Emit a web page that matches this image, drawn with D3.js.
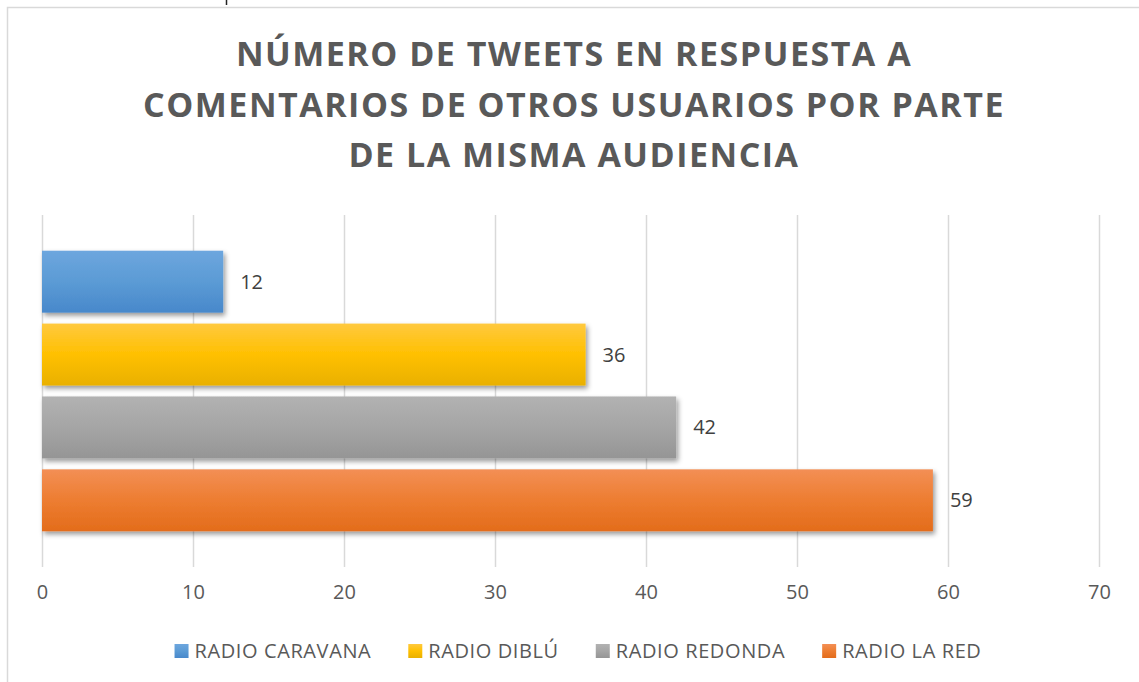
<!DOCTYPE html>
<html>
<head>
<meta charset="utf-8">
<script src="https://cdn.jsdelivr.net/npm/d3@7"></script>
<style>
  html, body { margin: 0; padding: 0; background: #fff; }
  svg { display: block; font-family: "Open Sans", sans-serif; }
</style>
</head>
<body>
<div id="chart"></div>
<script>
const titleLines = [
  "NÚMERO DE TWEETS EN RESPUESTA A",
  "COMENTARIOS DE OTROS USUARIOS POR PARTE",
  "DE LA MISMA AUDIENCIA"
];
const series = ["RADIO CARAVANA", "RADIO DIBLÚ", "RADIO REDONDA", "RADIO LA RED"];
const values = [12, 36, 42, 59];
const xTicks = [0, 10, 20, 30, 40, 50, 60, 70];
// top, middle, bottom of the gradient for each series
const colors = [
  ["#6da6de", "#5b9bd5", "#4888cb"],
  ["#ffc93f", "#ffc000", "#e9b000"],
  ["#b2b2b2", "#a5a5a5", "#959595"],
  ["#f38f55", "#ed7d31", "#e36c1b"]
];

const width = 1139, height = 682;
const plot = { left: 42, right: 1099, top: 215, bottom: 567 };

const svg = d3.select("#chart").append("svg")
  .attr("width", width)
  .attr("height", height);

const defs = svg.append("defs");

colors.forEach((c, i) => {
  const g = defs.append("linearGradient")
    .attr("id", "grad" + i)
    .attr("x1", "0%").attr("y1", "0%")
    .attr("x2", "0%").attr("y2", "100%");
  g.append("stop").attr("offset", "0%").attr("stop-color", c[0]);
  g.append("stop").attr("offset", "50%").attr("stop-color", c[1]);
  g.append("stop").attr("offset", "100%").attr("stop-color", c[2]);
});

const shadow = defs.append("filter")
  .attr("id", "shadow")
  .attr("x", "-5%").attr("y", "-20%")
  .attr("width", "115%").attr("height", "150%");
shadow.append("feDropShadow")
  .attr("dx", 2).attr("dy", 3)
  .attr("stdDeviation", 2.5)
  .attr("flood-color", "#000")
  .attr("flood-opacity", 0.4);

// frame of the chart area
svg.append("path")
  .attr("d", `M7.5,${height} V7.5 H${width}`)
  .attr("fill", "none")
  .attr("stroke", "#d9d9d9")
  .attr("stroke-width", 1.5);

// bit of text cut off above the chart
svg.append("line")
  .attr("x1", 226.5).attr("x2", 226.5)
  .attr("y1", 0).attr("y2", 5)
  .attr("stroke", "#222").attr("stroke-width", 1.5);

// title
svg.append("g")
  .selectAll("text")
  .data(titleLines)
  .join("text")
  .attr("x", 574)
  .attr("y", (d, i) => 66 + i * 50.5)
  .attr("text-anchor", "middle")
  .attr("fill", "#595959")
  .style("font-size", "34px")
  .style("font-weight", "bold")
  .style("letter-spacing", "1.5px")
  .text(d => d);

const x = d3.scaleLinear()
  .domain([0, 70])
  .range([plot.left, plot.right]);

const y = d3.scaleBand()
  .domain(series)
  .range([plot.top, plot.bottom])
  .paddingInner(0.15)
  .paddingOuter(0.49);

// gridlines
svg.append("g")
  .selectAll("line")
  .data(xTicks)
  .join("line")
  .attr("x1", d => Math.round(x(d)) + 0.5)
  .attr("x2", d => Math.round(x(d)) + 0.5)
  .attr("y1", plot.top)
  .attr("y2", plot.bottom)
  .attr("stroke", "#d9d9d9")
  .attr("stroke-width", 1.5);

// x axis labels
const axis = d3.axisBottom(x)
  .tickValues(xTicks)
  .tickSize(0)
  .tickPadding(0);

const axisG = svg.append("g")
  .attr("transform", `translate(0, 585)`)
  .call(axis);
axisG.select(".domain").remove();
axisG.selectAll("text")
  .attr("dy", "0.71em")
  .attr("fill", "#595959")
  .style("font-size", "20px")
  .style("font-family", "'Open Sans', sans-serif");

// bars
svg.append("g")
  .selectAll("rect")
  .data(series)
  .join("rect")
  .attr("x", x(0))
  .attr("y", d => y(d))
  .attr("width", (d, i) => x(values[i]) - x(0))
  .attr("height", y.bandwidth())
  .attr("fill", (d, i) => `url(#grad${i})`)
  .attr("filter", "url(#shadow)");

// data labels
svg.append("g")
  .selectAll("text")
  .data(series)
  .join("text")
  .attr("x", (d, i) => x(values[i]) + 17)
  .attr("y", d => y(d) + y.bandwidth() / 2)
  .attr("dy", "0.35em")
  .attr("fill", "#404040")
  .style("font-size", "20px")
  .text((d, i) => values[i]);

// legend
const legend = svg.append("g");
const items = legend.selectAll("g")
  .data(series)
  .join("g");
items.append("rect")
  .attr("width", 14)
  .attr("height", 14)
  .attr("y", -14)
  .attr("fill", (d, i) => `url(#grad${i})`);
items.append("text")
  .attr("x", 20)
  .attr("fill", "#595959")
  .style("font-size", "20px")
  .style("letter-spacing", "0.6px")
  .text(d => d);

let offset = 0;
items.each(function () {
  const w = 20 + d3.select(this).select("text").node().getComputedTextLength();
  d3.select(this).attr("transform", `translate(${offset}, 0)`);
  offset += w + 37;
});
const legendWidth = offset - 37;
legend.attr("transform", `translate(${578 - legendWidth / 2}, 658)`);
</script>
</body>
</html>
